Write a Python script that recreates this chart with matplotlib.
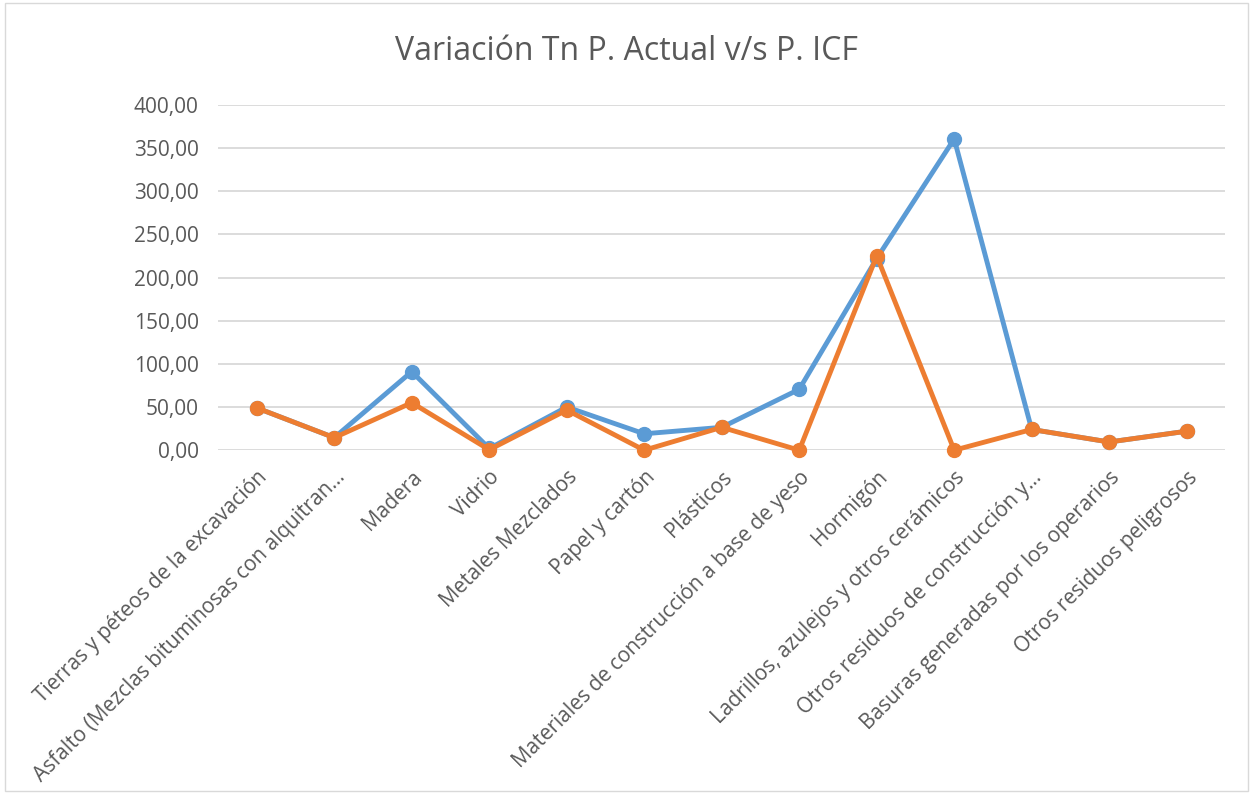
import matplotlib
matplotlib.use("Agg")
import matplotlib.pyplot as plt
from matplotlib.ticker import FuncFormatter, MultipleLocator

categories = [
    "Tierras y péteos de la excavación",
    "Asfalto (Mezclas bituminosas con alquitran...",
    "Madera",
    "Vidrio",
    "Metales Mezclados",
    "Papel y cartón",
    "Plásticos",
    "Materiales de construcción a base de yeso",
    "Hormigón",
    "Ladrillos, azulejos y otros cerámicos",
    "Otros residuos de construcción y...",
    "Basuras generadas por los operarios",
    "Otros residuos peligrosos",
]
p_actual = [49, 14.5, 91, 2, 50, 19, 26.5, 70.5, 222, 360.5, 24, 9.5, 22]
p_icf = [49, 14.5, 55, 0.5, 46.5, 0, 26.5, 0, 225, 0, 24, 9.5, 22]

plt.rcParams['font.family'] = ['Open Sans', 'DejaVu Sans']

fig = plt.figure(figsize=(12.53, 7.94), dpi=100)
ax = fig.add_axes([0.174, 0.433, 0.804, 0.435])

x = list(range(len(categories)))
ax.plot(x, p_actual, color='#5B9BD5', lw=3.5, marker='o', ms=10, zorder=3,
        solid_joinstyle='round')
ax.plot(x, p_icf, color='#ED7D31', lw=3.5, marker='o', ms=10, zorder=4,
        solid_joinstyle='round')

ax.set_xlim(-0.5, len(categories) - 0.5)
ax.set_ylim(0, 400)
ax.yaxis.set_major_locator(MultipleLocator(50))
ax.yaxis.set_major_formatter(FuncFormatter(lambda v, p: f"{v:.2f}".replace('.', ',')))
ax.grid(axis='y', color='#D9D9D9', lw=1.3)
ax.set_axisbelow(True)
for s in ax.spines.values():
    s.set_visible(False)
ax.tick_params(axis='both', length=0, labelcolor='#595959')
ax.tick_params(axis='y', pad=14, labelsize=15)
ax.set_xticks(x)
ax.set_xticklabels(categories, rotation=45, ha='right', va='top',
                   rotation_mode='anchor')
ax.tick_params(axis='x', pad=12, labelsize=15)
for line in ax.lines:
    line.set_clip_on(False)

fig.text(0.5, 0.935, "Variación Tn P. Actual v/s P. ICF", ha='center', va='center',
         fontsize=23, color='#595959')

fig.patches.append(plt.Rectangle((0.004, 0.004), 0.992, 0.992, transform=fig.transFigure,
                                 fill=False, edgecolor='#D9D9D9', lw=1))

fig.savefig("out.png", dpi=100, facecolor='white')
